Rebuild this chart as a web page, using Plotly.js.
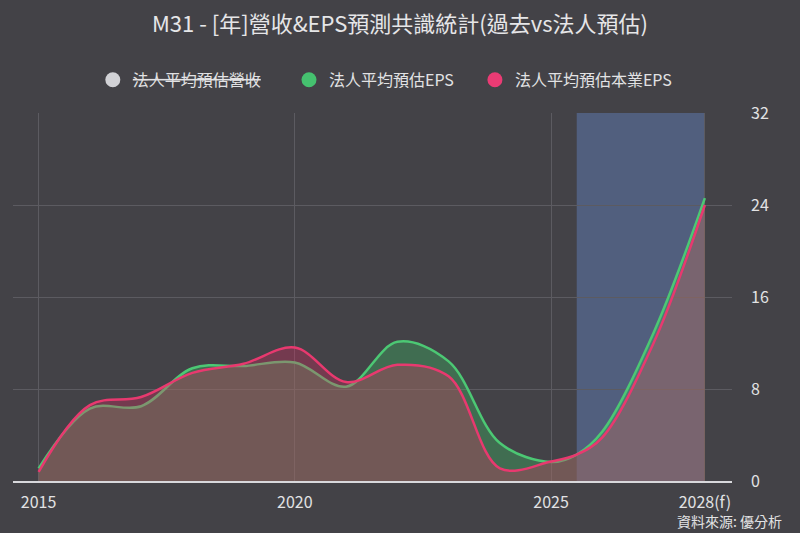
<!DOCTYPE html>
<html>
<head>
<meta charset="utf-8">
<script src="https://cdn.plot.ly/plotly-3.0.1.min.js"></script>
<style>
  html, body { margin: 0; padding: 0; background: #434247; }
  #chart { width: 800px; height: 533px; }
</style>
</head>
<body>
<div id="chart"></div>
<script>
// years (2025.5 = latest actual point, forecast after it)
const years = [2015, 2016, 2017, 2018, 2019, 2020, 2021, 2022, 2023, 2024, 2025, 2025.5, 2026, 2027, 2028];
const epsAvg = [1.1, 6.3, 6.5, 9.8, 10.0, 10.3, 8.2, 12.1, 10.4, 3.3, 1.65, 2.3, 4.3, 12.9, 24.6];
const coreEpsAvg = [0.8, 6.6, 7.3, 9.4, 10.2, 11.6, 8.6, 10.1, 9.1, 1.1, 1.7, 2.3, 3.8, 12.0, 24.0];

const tickYears = [2015, 2020, 2025, 2028];
const tickLabels = ['2015', '2020', '2025', '2028(f)'];
const forecastStart = 2025.5;
const forecastEnd = 2028;

const legendNames = ['法人平均預估營收', '法人平均預估EPS', '法人平均預估本業EPS'];
const legendColors = ['#d2d2d6', '#45c16f', '#ea3b74'];
// spacing after each legend label
const legendPads = ['\u3000\u00a0\u00a0', '\u3000', ''];

const font = 'Noto Sans CJK TC, Noto Sans, sans-serif';

const traces = [
    {
        x: years, y: epsAvg, type: 'scatter', mode: 'lines',
        line: {color: '#4cc874', width: 2.5, shape: 'spline', smoothing: 1},
        fill: 'tozeroy', fillcolor: 'rgba(60,190,100,0.35)',
        showlegend: false, hoverinfo: 'skip'
    },
    {
        x: years, y: coreEpsAvg, type: 'scatter', mode: 'lines',
        line: {color: '#e8396f', width: 2.5, shape: 'spline', smoothing: 1},
        fill: 'tozeroy', fillcolor: 'rgba(233,40,100,0.3)',
        showlegend: false, hoverinfo: 'skip'
    }
];

// legend only entries with round markers
legendNames.forEach((name, i) => {
    let label = name;
    if (i === 0) label = '<span style="text-decoration:line-through">' + name + '</span>';
    label += legendPads[i];
    traces.push({
        x: [null], y: [null], type: 'scatter', mode: 'markers',
        name: label,
        marker: {color: legendColors[i], size: 15, symbol: 'circle'}
    });
});

const layout = {
    width: 800,
    height: 533,
    paper_bgcolor: '#434247',
    plot_bgcolor: '#434247',
    margin: {l: 13, r: 68, t: 113, b: 52},
    font: {family: font, color: '#e2e2e4', size: 15},
    title: {
        text: 'M31 - [年]營收&EPS預測共識統計(過去vs法人預估)',
        x: 0.5, xanchor: 'center', y: 0.955, yanchor: 'middle',
        font: {family: font, size: 22, color: '#e6e6e8'}
    },
    legend: {
        orientation: 'h', x: 0.111, xanchor: 'left', y: 1.09, yanchor: 'middle',
        font: {family: font, size: 16, color: '#e2e2e4'},
        traceorder: 'normal'
    },
    xaxis: {
        range: [2014.5, 2028.53],
        tickvals: tickYears,
        ticktext: tickLabels,
        showgrid: true,
        gridcolor: '#5c5b61',
        gridwidth: 1,
        showline: true,
        linecolor: '#d8d8dc',
        linewidth: 1.5,
        zeroline: false,
        ticks: '',
        ticklabelstandoff: 6,
        tickfont: {size: 16, color: '#e2e2e4'},
        fixedrange: true
    },
    yaxis: {
        side: 'right',
        range: [0, 32],
        tickvals: [0, 8, 16, 24, 32],
        showgrid: true,
        gridcolor: '#5c5b61',
        zeroline: false,
        ticks: '',
        ticklabelstandoff: 18,
        tickfont: {size: 16, color: '#e2e2e4'},
        fixedrange: true
    },
    shapes: [{
        type: 'rect', xref: 'x', yref: 'y',
        x0: forecastStart, x1: forecastEnd, y0: 0, y1: 32,
        fillcolor: 'rgba(110,150,230,0.35)', line: {width: 0},
        layer: 'below'
    }],
    annotations: [{
        text: '資料來源: 優分析', xref: 'paper', yref: 'paper',
        x: 1.073, y: -0.11, xanchor: 'right', yanchor: 'middle',
        showarrow: false, font: {family: font, size: 14, color: '#e2e2e4'}
    }]
};

Plotly.newPlot('chart', traces, layout, {displayModeBar: false, staticPlot: true});
</script>
</body>
</html>
